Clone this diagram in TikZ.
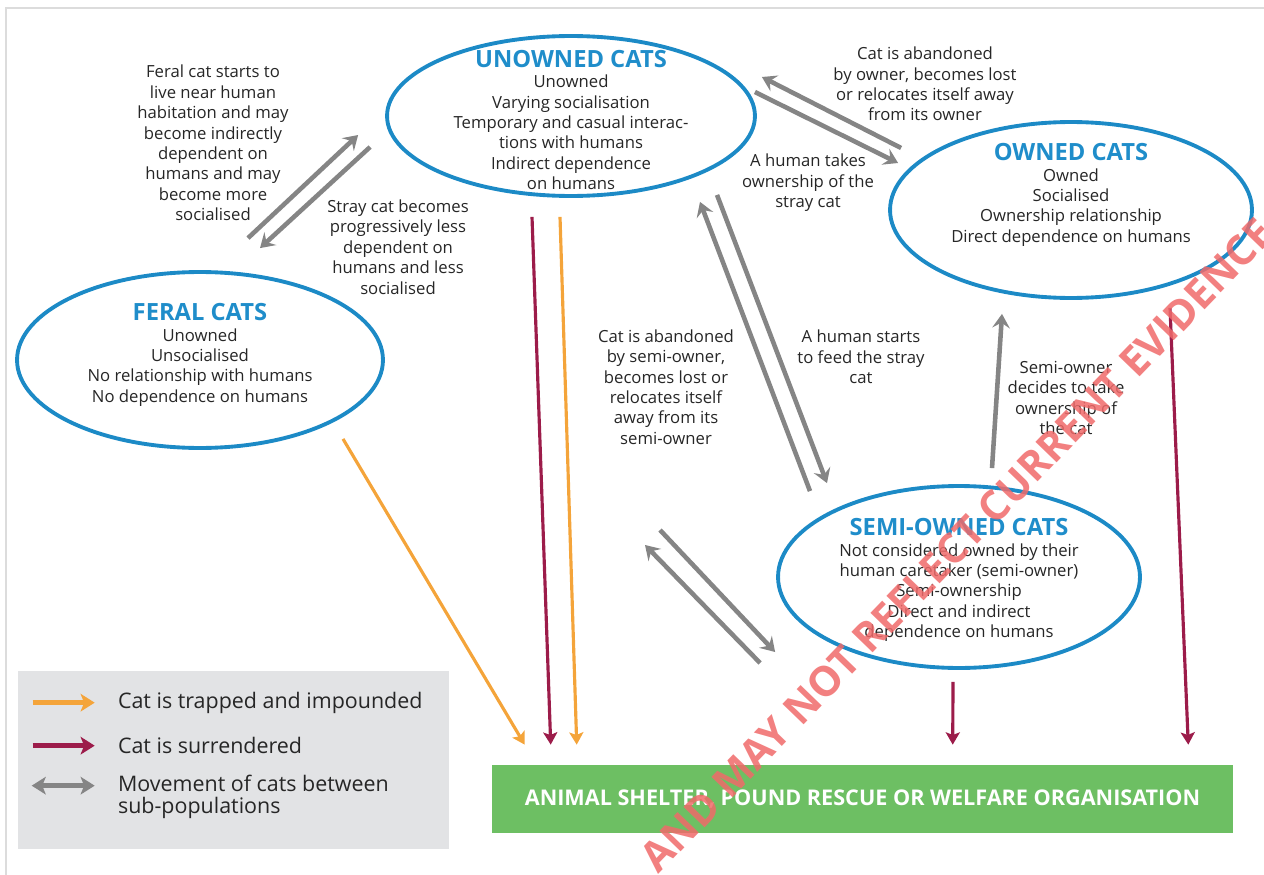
\documentclass[tikz,border=0pt]{standalone}
\usepackage{fontspec}
\setmainfont{Open Sans}
\usetikzlibrary{arrows.meta,shapes.geometric,calc,positioning}

\definecolor{catblue}{HTML}{1C8AC6}
\definecolor{titleblue}{HTML}{1F8DCA}
\definecolor{movegray}{HTML}{858585}
\definecolor{surrred}{HTML}{9C1C4A}
\definecolor{traporange}{HTML}{F4A43A}
\definecolor{shelgreen}{HTML}{6DBF63}
\definecolor{legendgray}{HTML}{E2E3E5}
\definecolor{framegray}{HTML}{DCDCDC}
\definecolor{stampred}{HTML}{F06A6A}

\newcommand{\bodysize}{\fontsize{9.5pt}{11.6pt}\selectfont}
\newcommand{\titlesize}{\fontsize{13.5pt}{15pt}\selectfont\bfseries}
\newcommand{\keysize}{\fontsize{12.2pt}{12.6pt}\selectfont}

\tikzset{
	pop/.style={ellipse, draw=catblue, line width=2.2pt, inner sep=0pt},
	poptext/.style={align=center, font=\bodysize, text=black!85, inner sep=0pt},
	note/.style={align=center, font=\bodysize, text=black!85, inner sep=0pt},
	mv/.style={draw=movegray, line width=2.6pt, -{Stealth[length=8pt,width=10pt,inset=3pt]}},
	surr/.style={draw=surrred, line width=1.8pt, -{Stealth[length=7pt,width=8pt,inset=1.5pt]}},
	trap/.style={draw=traporange, line width=1.8pt, -{Stealth[length=7pt,width=8pt,inset=1.5pt]}},
	keytext/.style={anchor=west, align=left, font=\keysize, text=black!85, inner sep=0pt},
	keyorange/.style={draw=traporange, line width=3pt, -{Stealth[length=8pt,width=10pt,inset=2pt]}},
	keyred/.style={draw=surrred, line width=3pt, -{Stealth[length=8pt,width=10pt,inset=2pt]}},
	keygray/.style={draw=movegray, line width=3pt, {Stealth[length=8pt,width=10pt,inset=2pt]}-{Stealth[length=8pt,width=10pt,inset=2pt]}},
}

\begin{document}
\begin{tikzpicture}[x=0.02cm, y=-0.02cm]
	\useasboundingbox (0,0) rectangle (1264,875);
	\draw[framegray, line width=1.6pt] (6,890) -- (6,8) -- (1280,8);

	% sub-populations
	\node (unowned)	at ( 571, 116)	[pop, minimum width=7.36cm, minimum height=3.2cm]	{};
	\node (owned)	at (1071, 210)	[pop, minimum width=7.24cm, minimum height=3.52cm]	{};
	\node (feral)	at ( 200, 360)	[pop, minimum width=7.32cm, minimum height=3.52cm]	{};
	\node (semi)	at ( 959, 577)	[pop, minimum width=7.24cm, minimum height=3.64cm]	{};

	\node (unownedtxt)	at ($(unowned)+(0,4)$)	[poptext]	{{\titlesize\textcolor{titleblue}{UNOWNED CATS}}\\Unowned\\Varying socialisation\\Temporary and casual interac-\\tions with humans\\Indirect dependence\\on humans};
	\node (ownedtxt)	at ($(owned)+(0,-15)$)	[poptext]	{{\titlesize\textcolor{titleblue}{OWNED CATS}}\\Owned\\Socialised\\Ownership relationship\\Direct dependence on humans};
	\node (feraltxt)	at ($(feral)+(0,-5)$)	[poptext]	{{\titlesize\textcolor{titleblue}{FERAL CATS}}\\Unowned\\Unsocialised\\No relationship with humans\\No dependence on humans};
	\node (semitxt)	at ($(semi)+(0,3)$)	[poptext]	{{\titlesize\textcolor{titleblue}{SEMI-OWNED CATS}}\\Not considered owned by their\\human caretaker (semi-owner)\\Semi-ownership\\Direct and indirect\\dependence on humans};

	% shelter and legend
	\node (shelter)	at (862.5, 799)	[fill=shelgreen, minimum width=14.82cm, minimum height=1.36cm, text=white, font=\fontsize{12.3pt}{14pt}\selectfont\bfseries]	{ANIMAL SHELTER, POUND RESCUE OR WELFARE ORGANISATION};
	\node (legend)	at (233.5, 760)	[fill=legendgray, minimum width=8.62cm, minimum height=3.56cm]	{};
	\node (keytrap)	at ($(legend.north west)+(100,32)$)	[keytext]	{Cat is trapped and impounded};
	\node (keysurr)	at ($(legend.north west)+(100,75)$)	[keytext]	{Cat is surrendered};
	\node (keymove)	at ($(legend.north west)+(100,126)$)	[keytext]	{Movement of cats between\\sub-populations};
	\draw[keyorange] ($(keytrap.west)+(-85,0)$) -- ($(keytrap.west)+(-23,0)$);
	\draw[keyred] ($(keysurr.west)+(-85,0)$) -- ($(keysurr.west)+(-23,0)$);
	\draw[keygray] ($(keymove.west)+(-86,-11)$) -- ($(keymove.west)+(-23,-11)$);

	% movement labels
	\node (feralup)	at ( 213, 143)	[note]	{Feral cat starts to\\live near human\\habitation and may\\become indirectly\\dependent on\\humans and may\\become more\\socialised};
	\node (straydown)	at ( 398, 247)	[note]	{Stray cat becomes\\progressively less\\dependent on\\humans and less\\socialised};
	\node (ownedlost)	at ( 925,  84)	[note]	{Cat is abandoned\\by owner, becomes lost\\or relocates itself away\\from its owner};
	\node (takeown)	at ( 808, 183)	[note]	{A human takes\\ownership of the\\stray cat};
	\node (semilost)	at ( 666, 387)	[note]	{Cat is abandoned\\by semi-owner,\\becomes lost or\\relocates itself\\away from its\\semi-owner};
	\node (startfeed)	at ( 861, 357)	[note]	{A human starts\\to feed the stray\\cat};
	\node (semitake)	at (1066, 398)	[note]	{Semi-owner\\decides to take\\ownership of\\the cat};

	% movement between sub-populations
	\coordinate (away) at (652,538);
	\draw[mv] ($(feral.north)+(48,-32)$) -- ($(unowned.west)+(-27,19)$);
	\draw[mv] ($(unowned.west)+(-15,31)$) -- ($(feral.north)+(60,-22)$);
	\draw[mv] ($(owned.west)+(13,-62)$) -- ($(unowned.east)+(5,-39)$);
	\draw[mv] ($(unowned.east)+(-2,-24)$) -- ($(owned.west)+(10,-47)$);
	\draw[mv] ($(semi.north)+(-149,7)$) -- ($(unowned.south)+(129,4)$);
	\draw[mv] ($(unowned.south)+(146,-3)$) -- ($(semi.north)+(-132,-1)$);
	\draw[mv] ($(semi.north)+(33,-16)$) -- ($(owned.south)+(-69,14)$);
	\draw[mv] ($(semi.west)+(-16,86)$) -- ($(away)+(-7,7)$);
	\draw[mv] ($(away)+(8,-8)$) -- ($(semi.west)+(-1,75)$);

	% into the shelter
	\draw[trap] ($(feral.south)+(143,-11)$) -- ($(shelter.north west)+(33,-20)$);
	\draw[surr] ($(unowned.south)+(-39,19)$) -- ($(shelter.north west)+(59,-20)$);
	\draw[trap] ($(unowned.south)+(-11,19)$) -- ($(shelter.north west)+(85,-20)$);
	\draw[surr] ($(semi.south)+(-6,12)$) -- ($(shelter.north west)+(461,-20)$);
	\draw[surr] ($(owned.south)+(99,8)$) -- ($(shelter.north east)+(-45,-20)$);

	% stamp
	\begin{scope}
		\clip (0,0) rectangle (1264,875);
		\node (stamp) at (957,545) [rotate=46, text=stampred, text opacity=0.85, font=\fontsize{23.5pt}{25pt}\selectfont\bfseries]	{AND MAY NOT REFLECT CURRENT EVIDENCE};
	\end{scope}
\end{tikzpicture}
\end{document}
